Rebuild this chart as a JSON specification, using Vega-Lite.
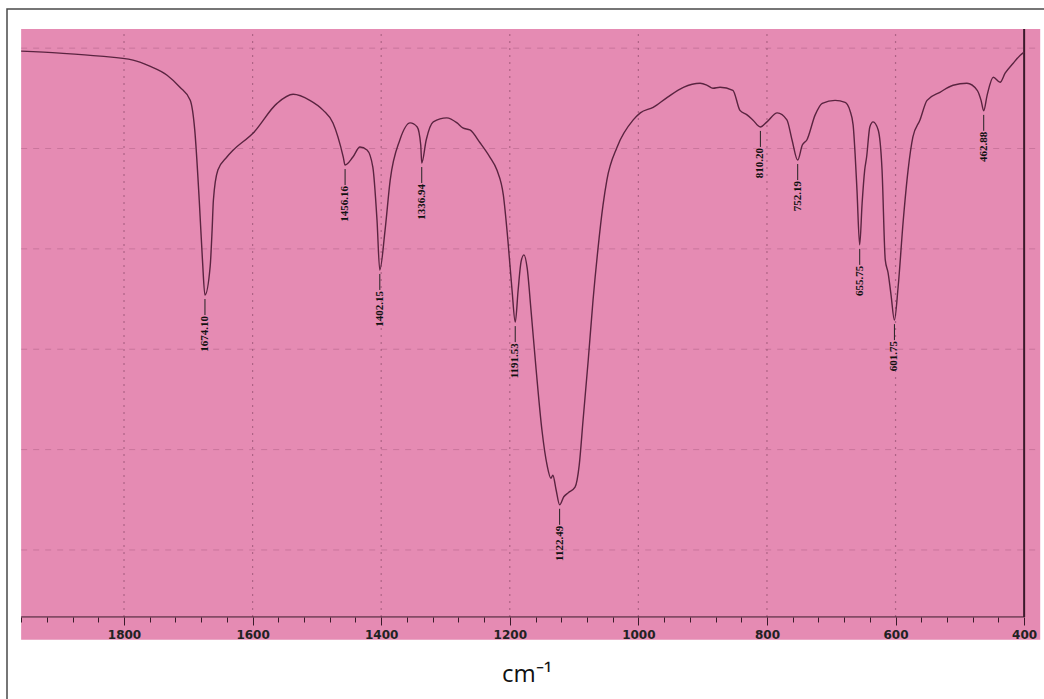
{
  "$schema": "https://vega.github.io/schema/vega-lite/v6.json",
  "width": 1039,
  "height": 692,
  "autosize": {"type": "none"},
  "padding": {"left": 7, "top": 9, "right": 0, "bottom": 0},
  "background": "white",
  "config": {"view": {"fill": "white", "stroke": "#4a4a4a", "strokeWidth": 1.5}},
  "resolve": {"axis": {"x": "independent", "y": "independent"}},
  "datasets": {
    "spectrum": [
      {"wn": 1960, "t": 99.4}, {"wn": 1900, "t": 99.0}, {"wn": 1837, "t": 98.4}, {"wn": 1786, "t": 97.6},
      {"wn": 1760, "t": 96.4}, {"wn": 1733, "t": 94.6}, {"wn": 1713, "t": 92.2}, {"wn": 1697, "t": 89.6},
      {"wn": 1690, "t": 83.7}, {"wn": 1683, "t": 69.7}, {"wn": 1678, "t": 57.8}, {"wn": 1674.1, "t": 50.8},
      {"wn": 1666, "t": 56.5}, {"wn": 1663, "t": 63.7}, {"wn": 1661, "t": 69.7}, {"wn": 1654, "t": 75.7},
      {"wn": 1640, "t": 78.3}, {"wn": 1630, "t": 79.7}, {"wn": 1599, "t": 83.1}, {"wn": 1562, "t": 89.0},
      {"wn": 1537, "t": 90.8}, {"wn": 1511, "t": 89.6}, {"wn": 1490, "t": 87.6}, {"wn": 1475, "t": 85.1},
      {"wn": 1459, "t": 78.3}, {"wn": 1456.2, "t": 76.7}, {"wn": 1444, "t": 78.3}, {"wn": 1433, "t": 80.3},
      {"wn": 1422, "t": 79.7}, {"wn": 1413, "t": 76.3}, {"wn": 1406.5, "t": 65.7}, {"wn": 1402.2, "t": 55.8},
      {"wn": 1394, "t": 63.7}, {"wn": 1386, "t": 73.7}, {"wn": 1371, "t": 81.7}, {"wn": 1355, "t": 85.1},
      {"wn": 1344, "t": 84.3}, {"wn": 1338.5, "t": 80.7}, {"wn": 1336.9, "t": 77.1}, {"wn": 1330, "t": 81.7},
      {"wn": 1319, "t": 85.3}, {"wn": 1298, "t": 86.1}, {"wn": 1282, "t": 85.1}, {"wn": 1273, "t": 84.1},
      {"wn": 1262, "t": 83.7}, {"wn": 1246, "t": 81.1}, {"wn": 1231, "t": 78.3}, {"wn": 1220, "t": 75.7},
      {"wn": 1210, "t": 70.7}, {"wn": 1203, "t": 61.8}, {"wn": 1196.5, "t": 51.8}, {"wn": 1191.5, "t": 45.4},
      {"wn": 1187, "t": 51.8}, {"wn": 1182.5, "t": 57.4}, {"wn": 1178, "t": 58.8}, {"wn": 1173, "t": 56.2},
      {"wn": 1167, "t": 47.8}, {"wn": 1159, "t": 35.9}, {"wn": 1150, "t": 23.9}, {"wn": 1142, "t": 16.9},
      {"wn": 1136, "t": 14.3}, {"wn": 1133, "t": 14.9}, {"wn": 1128, "t": 12.0}, {"wn": 1122.5, "t": 9.0},
      {"wn": 1116, "t": 10.6}, {"wn": 1109, "t": 11.4}, {"wn": 1098.5, "t": 12.5}, {"wn": 1092, "t": 16.9},
      {"wn": 1086, "t": 25.9}, {"wn": 1078, "t": 37.8}, {"wn": 1070.5, "t": 49.8}, {"wn": 1063, "t": 59.8},
      {"wn": 1055, "t": 68.7}, {"wn": 1049, "t": 73.7}, {"wn": 1033, "t": 80.3}, {"wn": 1008, "t": 85.7},
      {"wn": 997, "t": 87.1}, {"wn": 977, "t": 88.2}, {"wn": 955, "t": 90.2}, {"wn": 930, "t": 92.2},
      {"wn": 904, "t": 93.0}, {"wn": 893, "t": 92.6}, {"wn": 884, "t": 92.0}, {"wn": 873, "t": 92.2},
      {"wn": 853, "t": 91.6}, {"wn": 842, "t": 87.6}, {"wn": 831, "t": 86.7}, {"wn": 822, "t": 85.7},
      {"wn": 810.2, "t": 84.3}, {"wn": 800, "t": 85.3}, {"wn": 784, "t": 87.1}, {"wn": 769, "t": 85.7},
      {"wn": 761, "t": 81.7}, {"wn": 752.2, "t": 77.7}, {"wn": 745, "t": 80.7}, {"wn": 738, "t": 81.7},
      {"wn": 725, "t": 86.7}, {"wn": 714, "t": 89.0}, {"wn": 694, "t": 89.6}, {"wn": 678.5, "t": 89.2},
      {"wn": 671, "t": 87.6}, {"wn": 666, "t": 84.7}, {"wn": 663, "t": 79.1}, {"wn": 660, "t": 71.7},
      {"wn": 655.8, "t": 60.8}, {"wn": 652, "t": 69.1}, {"wn": 648, "t": 75.7}, {"wn": 645, "t": 78.3},
      {"wn": 640, "t": 84.3}, {"wn": 635, "t": 85.3}, {"wn": 627, "t": 83.7}, {"wn": 621, "t": 75.7},
      {"wn": 616, "t": 57.8}, {"wn": 611.6, "t": 55.2}, {"wn": 607, "t": 50.8}, {"wn": 601.8, "t": 45.8},
      {"wn": 596, "t": 52.4}, {"wn": 588, "t": 65.7}, {"wn": 580.5, "t": 75.7}, {"wn": 573, "t": 82.3},
      {"wn": 562, "t": 85.7}, {"wn": 551, "t": 89.6}, {"wn": 531, "t": 91.2}, {"wn": 510.5, "t": 92.6},
      {"wn": 489, "t": 93.0}, {"wn": 473, "t": 91.6}, {"wn": 467, "t": 89.6}, {"wn": 462.9, "t": 87.5},
      {"wn": 457.6, "t": 90.6}, {"wn": 448, "t": 94.2}, {"wn": 437.4, "t": 93.2}, {"wn": 429.6, "t": 95.0},
      {"wn": 417, "t": 97.0}, {"wn": 406, "t": 98.6}, {"wn": 400, "t": 99.2}
    ],
    "peaks": [
      {"wn": 1674.1, "t": 50.8, "label": "1674.10"},
      {"wn": 1456.16, "t": 76.7, "label": "1456.16"},
      {"wn": 1402.15, "t": 55.8, "label": "1402.15"},
      {"wn": 1336.94, "t": 77.1, "label": "1336.94"},
      {"wn": 1191.53, "t": 45.4, "label": "1191.53"},
      {"wn": 1122.49, "t": 9.0, "label": "1122.49"},
      {"wn": 810.2, "t": 84.3, "label": "810.20"},
      {"wn": 752.19, "t": 77.7, "label": "752.19"},
      {"wn": 655.75, "t": 60.8, "label": "655.75"},
      {"wn": 601.75, "t": 45.8, "label": "601.75"},
      {"wn": 462.88, "t": 87.5, "label": "462.88"}
    ],
    "hgrid": [{"t": 0}, {"t": 20}, {"t": 40}, {"t": 60}, {"t": 80}, {"t": 100}],
    "vgrid": [{"wn": 1800}, {"wn": 1600}, {"wn": 1400}, {"wn": 1200}, {"wn": 1000}, {"wn": 800}, {"wn": 600}]
  },
  "layer": [
    {
      "data": {"values": [{}]},
      "mark": {"type": "rect", "color": "#e58bb3"},
      "encoding": {
        "x": {"datum": 1960, "type": "quantitative", "scale": {"domain": [366, 1982], "reverse": true, "nice": false, "zero": false}, "axis": null},
        "x2": {"datum": 375},
        "y": {"datum": 103.8, "type": "quantitative", "scale": {"domain": [-30.1, 107.8], "nice": false, "zero": false}, "axis": null},
        "y2": {"datum": -17.9}
      }
    },
    {
      "data": {"name": "hgrid"},
      "mark": {"type": "rule", "color": "#a85a80", "strokeWidth": 1, "strokeDash": [6, 6], "opacity": 0.45},
      "encoding": {
        "y": {"field": "t", "type": "quantitative", "axis": null},
        "x": {"datum": 1960, "type": "quantitative", "axis": null},
        "x2": {"datum": 375}
      }
    },
    {
      "data": {"name": "vgrid"},
      "mark": {"type": "rule", "color": "#8a4a68", "strokeWidth": 1.2, "strokeDash": [2, 5], "opacity": 0.6},
      "encoding": {
        "x": {"field": "wn", "type": "quantitative", "axis": null},
        "y": {"datum": -13.35, "type": "quantitative", "axis": null},
        "y2": {"datum": 103.8}
      }
    },
    {
      "data": {"values": [{}]},
      "mark": {"type": "rule", "color": "#3a1a2a", "strokeWidth": 1},
      "encoding": {
        "x": {"datum": 1960, "type": "quantitative", "axis": null},
        "x2": {"datum": 400},
        "y": {"datum": -13.35, "type": "quantitative", "axis": null}
      }
    },
    {
      "data": {"values": [{}]},
      "mark": {"type": "rule", "color": "#3a1a2a", "strokeWidth": 2},
      "encoding": {
        "x": {"datum": 400, "type": "quantitative", "axis": null},
        "y": {"datum": -13.35, "type": "quantitative", "axis": null},
        "y2": {"datum": 103.8}
      }
    },
    {
      "data": {"name": "spectrum"},
      "mark": {"type": "line", "color": "#5a2440", "strokeWidth": 1.4, "interpolate": "monotone"},
      "encoding": {
        "x": {"field": "wn", "type": "quantitative", "sort": null,
          "axis": {
            "orient": "bottom", "offset": -84, "domain": false, "grid": false, "format": "d", "zindex": 2,
            "values": [1960,1920,1880,1840,1800,1760,1720,1680,1640,1600,1560,1520,1480,1440,1400,1360,1320,1280,1240,1200,1160,1120,1080,1040,1000,960,920,880,840,800,760,720,680,640,600,560,520,480,440,400],
            "tickColor": "#3a1a2a", "tickWidth": 1,
            "tickSize": {"condition": {"test": "datum.value % 200 === 0", "value": 8}, "value": 5},
            "labelExpr": "datum.value % 200 === 0 ? datum.label : ''",
            "labelFont": "DejaVu Sans", "labelFontWeight": "bold", "labelFontSize": 12, "labelColor": "#222222",
            "labelPadding": 4, "labelFlush": false, "labelOverlap": false,
            "title": "cm⁻¹", "titleFont": "Open Sans", "titleFontSize": 24, "titleFontWeight": "normal", "titleColor": "#111111", "titlePadding": 22
          }},
        "y": {"field": "t", "type": "quantitative", "axis": null},
        "order": {"field": "wn", "sort": "descending"}
      }
    },
    {
      "data": {"name": "peaks"},
      "mark": {"type": "rule", "color": "#222222", "strokeWidth": 1, "yOffset": 4, "y2Offset": 20},
      "encoding": {
        "x": {"field": "wn", "type": "quantitative", "axis": null},
        "y": {"field": "t", "type": "quantitative", "axis": null},
        "y2": {"field": "t"}
      }
    },
    {
      "data": {"name": "peaks"},
      "mark": {"type": "text", "angle": 270, "align": "right", "baseline": "middle", "yOffset": 21, "font": "Liberation Sans Narrow", "fontWeight": "bold", "fontSize": 11, "color": "#111111"},
      "encoding": {
        "x": {"field": "wn", "type": "quantitative", "axis": null},
        "y": {"field": "t", "type": "quantitative", "axis": null},
        "text": {"field": "label"}
      }
    }
  ]
}
